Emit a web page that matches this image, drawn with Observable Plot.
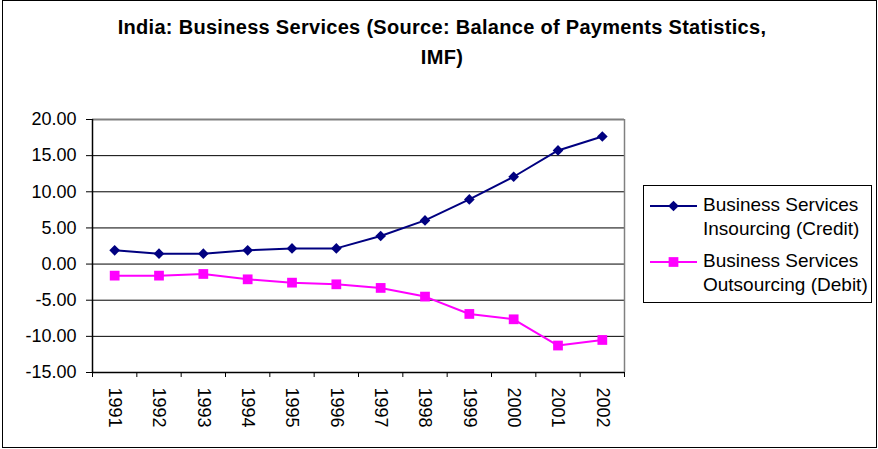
<!DOCTYPE html>
<html>
<head>
<meta charset="utf-8">
<script src="https://cdn.jsdelivr.net/npm/d3@7"></script>
<script src="https://cdn.jsdelivr.net/npm/@observablehq/plot@0.6"></script>
<style>
  html, body { margin: 0; padding: 0; background: #fff; }
  #wrap { position: relative; width: 878px; height: 449px; overflow: hidden; font-family: "Liberation Sans", Arial, sans-serif; background: #fff; }
  #border { position: absolute; left: 2px; top: 0; width: 875px; height: 448px; box-sizing: border-box; border: 1px solid #000; }
  #title { position: absolute; left: 3px; top: 12px; width: 878px; text-align: center; font-weight: bold; font-size: 20px; line-height: 30px; letter-spacing: 0.3px; color: #000; }
  #chart { position: absolute; left: 0; top: 100px; }
  #legend { position: absolute; left: 643px; top: 185px; width: 229px; height: 118px; box-sizing: border-box; border: 1px solid #000; background: #fff; }
  .sw { position: absolute; left: 6px; }
  .lt { position: absolute; left: 59px; font-size: 19px; line-height: 24px; color: #000; white-space: nowrap; }
</style>
</head>
<body>
<div id="wrap">
  <div id="border"></div>
  <div id="title">India: Business Services (Source: Balance of Payments Statistics,<br>IMF)</div>
  <div id="chart"></div>
  <div id="legend"></div>
</div>
<script>
const years = ["1991","1992","1993","1994","1995","1996","1997","1998","1999","2000","2001","2002"];
const credit = [1.90, 1.44, 1.44, 1.90, 2.17, 2.17, 3.88, 6.04, 8.95, 12.08, 15.72, 17.65];
const debit = [-1.60, -1.60, -1.37, -2.11, -2.57, -2.80, -3.30, -4.50, -6.90, -7.64, -11.27, -10.50];
const yTicks = [-15, -10, -5, 0, 5, 10, 15, 20];
const seriesLegend = [["Business Services", "Insourcing (Credit)"], ["Business Services", "Outsourcing (Debit)"]];
const colors = ["#000080", "#FF00FF"];
const symbols = ["diamond2", "square"];

const creditData = years.map((y, i) => ({i: i + 0.5, v: credit[i]}));
const debitData = years.map((y, i) => ({i: i + 0.5, v: debit[i]}));
const yearData = years.map((y, i) => ({i: i + 0.5, label: y}));
const bounds = d3.range(years.length + 1);

const plot = Plot.plot({
  width: 878,
  height: 349,
  marginLeft: 92,
  marginRight: 254,
  marginTop: 19,
  marginBottom: 77,
  style: {fontFamily: "'Liberation Sans', Arial, sans-serif", fontSize: "18px", color: "#000", background: "transparent", overflow: "visible"},
  x: {type: "linear", domain: [0, years.length], axis: null},
  y: {domain: [-15, 20], axis: null},
  marks: [
    Plot.ruleY(yTicks.filter(t => t > -15 && t < 20), {stroke: "#000", strokeWidth: 1}),
    Plot.ruleY([20], {stroke: "#808080", strokeWidth: 2}),
    Plot.ruleX([years.length], {stroke: "#808080", strokeWidth: 1.5}),
    Plot.ruleX([0], {stroke: "#000", strokeWidth: 1.5}),
    Plot.ruleY([-15], {stroke: "#000", strokeWidth: 1.5}),
    Plot.axisY(yTicks, {tickSize: 6, tickPadding: 10, tickFormat: d => d.toFixed(2), fontSize: 18, stroke: "#000", label: null}),
    Plot.axisX(bounds, {tickSize: 5, tickFormat: () => "", stroke: "#000", label: null}),
    Plot.text(yearData, {x: "i", y: () => -15, text: "label", rotate: 90, textAnchor: "start", lineAnchor: "middle", dy: 15, fontSize: 18, fill: "#000"}),
    Plot.line(creditData, {x: "i", y: "v", stroke: colors[0], strokeWidth: 2}),
    Plot.dot(creditData, {x: "i", y: "v", symbol: symbols[0], r: 4.8, fill: colors[0], stroke: "none"}),
    Plot.line(debitData, {x: "i", y: "v", stroke: colors[1], strokeWidth: 2}),
    Plot.dot(debitData, {x: "i", y: "v", symbol: symbols[1], r: 5.5, fill: colors[1], stroke: "none"})
  ]
});
document.getElementById("chart").appendChild(plot);

// Legend
const legend = document.getElementById("legend");
const swCenters = [20, 76];
seriesLegend.forEach((lines, k) => {
  const svg = d3.create("svg").attr("class", "sw").attr("width", 48).attr("height", 14)
    .style("top", (swCenters[k] - 7) + "px");
  svg.append("line").attr("x1", 0).attr("x2", 47).attr("y1", 7).attr("y2", 7)
    .attr("stroke", colors[k]).attr("stroke-width", 2);
  const sym = k === 0 ? d3.symbolDiamond2 : d3.symbolSquare;
  const size = k === 0 ? Math.PI * 4.8 * 4.8 : Math.PI * 5.5 * 5.5;
  svg.append("path").attr("d", d3.symbol(sym, size)()).attr("transform", "translate(23.5,7)").attr("fill", colors[k]);
  legend.appendChild(svg.node());
  const t = document.createElement("div");
  t.className = "lt";
  t.style.top = (swCenters[k] - 13) + "px";
  t.innerHTML = lines.join("<br>");
  legend.appendChild(t);
});
</script>
</body>
</html>
